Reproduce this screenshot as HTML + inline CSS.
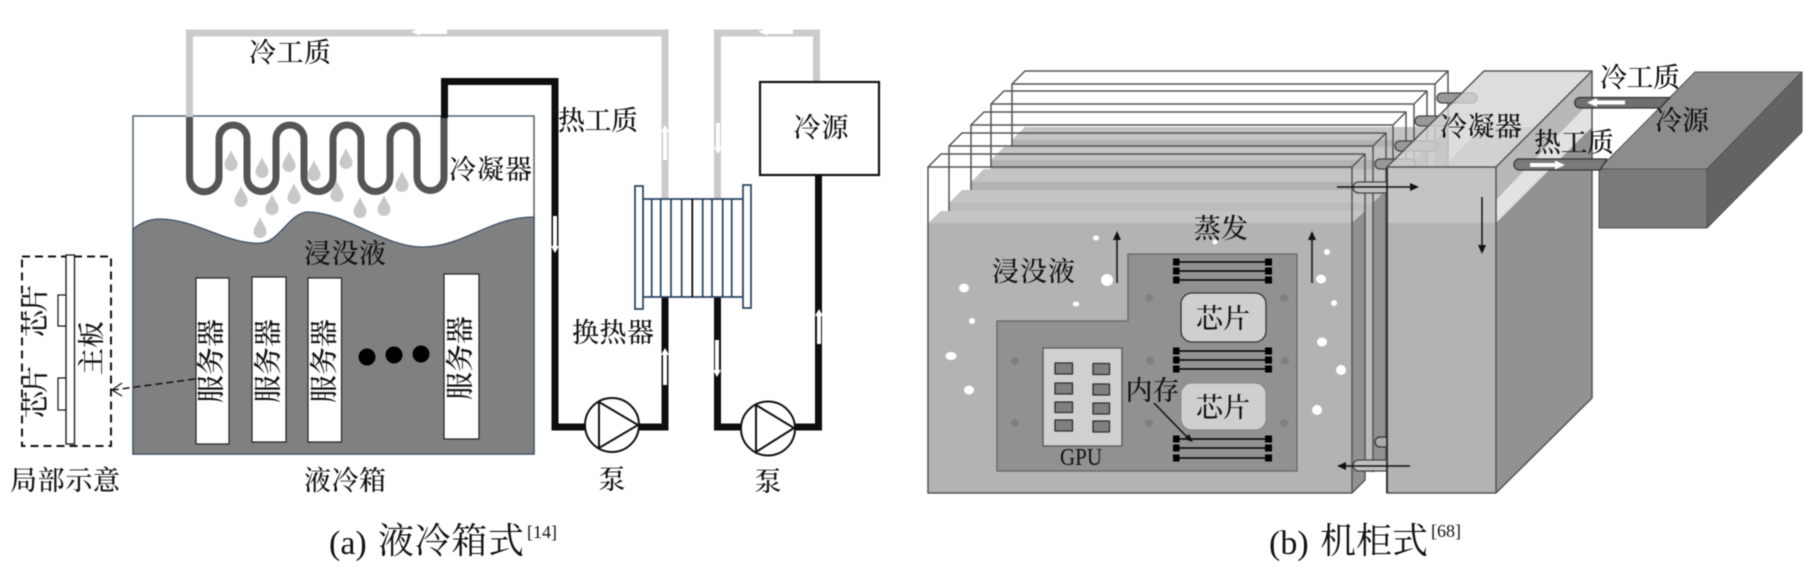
<!DOCTYPE html>
<html><head><meta charset="utf-8"><style>
html,body{margin:0;padding:0;background:#fff;width:1810px;height:583px;overflow:hidden}
svg{display:block;filter:blur(.55px)}
text{font-family:"Liberation Serif","Noto Serif CJK SC",serif;fill:#111}
.c{font-family:"Liberation Serif","Noto Serif CJK SC",serif;text-anchor:middle;dominant-baseline:central;font-size:27px;font-weight:500}
</style></head><body>
<svg width="1810" height="583" viewBox="0 0 1810 583" xmlns="http://www.w3.org/2000/svg">
<defs>
<path id="d" d="M0,-11 C2,-5 6.5,-1 6.5,3.5 A6.5,6.5 0 1 1 -6.5,3.5 C-6.5,-1 -2,-5 0,-11 Z" fill="#c8c8c8"/>
</defs>

<!-- LEFT: tank -->
<rect x="133" y="116" width="401" height="338" fill="#fff" stroke="#4e6070" stroke-width="1.5"/>
<path d="M133,229 C142,222 150,219 160,219 C195,219 230,246 262,243 C280,241 290,212 308,212 C345,212 385,248 424,247 C465,246 490,217 534,217 L534,454 L133,454 Z" fill="#808080" stroke="#3d5068" stroke-width="1.3"/>
<use href="#d" x="231" y="161"/><use href="#d" x="262" y="168"/><use href="#d" x="289" y="162"/><use href="#d" x="314" y="171"/><use href="#d" x="346" y="159"/><use href="#d" x="241" y="197"/><use href="#d" x="272" y="205"/><use href="#d" x="294" y="194"/><use href="#d" x="337" y="192"/><use href="#d" x="360" y="208"/><use href="#d" x="384" y="206"/><use href="#d" x="402" y="182"/><use href="#d" x="260" y="228"/>

<!-- gray loops -->
<path d="M189.500,117 V33 H665 V199" fill="none" stroke="#cbcbcb" stroke-width="7"/>
<path d="M717.500,199 V33 H816.500 V82" fill="none" stroke="#cbcbcb" stroke-width="7"/>

<!-- coil -->
<path d="M189.500,117 V177 A14.750,14.750 0 0 0 219,177 V139 A14,14 0 0 1 247,139 V177 A14.500,14.500 0 0 0 276,177 V139 A14,14 0 0 1 304,139 V177 A14.500,14.500 0 0 0 333,177 V139 A14,14 0 0 1 361,139 V177 A14.500,14.500 0 0 0 390,177 V139 A13.500,13.500 0 0 1 417,139 V177 A13.500,13.500 0 0 0 444,177 V116" fill="none" stroke="#555" stroke-width="7"/>

<!-- black loops -->
<path d="M444.500,118 V81.500 H555 V427 H600" fill="none" stroke="#0e0e0e" stroke-width="7"/>
<path d="M625,427 H665 V297" fill="none" stroke="#0e0e0e" stroke-width="7"/>
<path d="M717.500,297 V427 H750" fill="none" stroke="#0e0e0e" stroke-width="7"/>
<path d="M785,427 H818.500 V175" fill="none" stroke="#0e0e0e" stroke-width="7"/>

<!-- white flow arrows -->
<g fill="#fff">
<polygon points="447,29.500 420,29.500 420,28 411,31.700 420,35.500 420,34 447,34"/>
<polygon points="793,29.500 768,29.500 768,28 758,31.700 768,35.500 768,34 793,34"/>
<polygon points="663,160 663,132 661,132 665,125 669,132 667,132 667,160"/>
<polygon points="716,123 716,147 714,147 718,154 722,147 720,147 720,123"/>
<polygon points="553,216 553,246 551,246 555,253 559,246 557,246 557,216"/>
<polygon points="663,385 663,355 661,355 665,348 669,355 667,355 667,385"/>
<polygon points="715,340 715,370 713,370 717,377 721,370 719,370 719,340"/>
<polygon points="817,344 817,316 815,316 819,309 823,316 821,316 821,344"/>
</g>

<!-- exchanger -->
<g fill="none" stroke="#26405f" stroke-width="1.700">
<rect x="643" y="199" width="100" height="98" fill="#fff"/>
<rect x="635" y="186" width="8" height="123" fill="#fff"/>
<rect x="743" y="185" width="8" height="123" fill="#fff"/>
<path d="M651.700,199V297M660.700,199V297M671,199V297M681.700,199V297M702.700,199V297M712,199V297M722.700,199V297M731.700,199V297"/>
<path d="M692.300,199V297" stroke="#000"/>
</g>

<!-- pumps -->
<g fill="#fff" stroke="#111" stroke-width="2">
<ellipse cx="612" cy="425" rx="27" ry="27"/>
<polygon points="599,402 638,425 599,448" fill="none"/>
<ellipse cx="768" cy="428.500" rx="27" ry="27"/>
<polygon points="756,405 794,428 756,452" fill="none"/>
</g>

<rect x="760" y="82" width="119" height="93" fill="#fff" stroke="#111" stroke-width="2.200"/>

<!-- servers -->
<g fill="#fff" stroke="#222" stroke-width="1.200">
<rect x="196" y="278" width="33" height="166"/>
<rect x="252" y="277" width="34" height="165"/>
<rect x="308" y="278" width="33.500" height="164"/>
<rect x="444" y="274" width="35" height="165"/>
</g>
<circle cx="367" cy="357" r="8.500" fill="#000"/><circle cx="394" cy="355" r="8.500" fill="#000"/><circle cx="421" cy="354" r="8.500" fill="#000"/>

<!-- inset -->
<rect x="22" y="256.500" width="89" height="189.500" fill="none" stroke="#111" stroke-width="2" stroke-dasharray="8 5"/>
<rect x="66" y="255" width="8.500" height="189" fill="#fff" stroke="#111" stroke-width="1.300"/>
<rect x="58" y="295" width="8" height="31" fill="#fff" stroke="#111" stroke-width="1.200"/>
<rect x="58" y="378" width="8" height="32" fill="#fff" stroke="#111" stroke-width="1.200"/>
<path d="M195,379 L113,390" stroke="#111" stroke-width="1.500" stroke-dasharray="7 4" fill="none"/>
<path d="M122,383 L112,390 L122,396" stroke="#111" stroke-width="1.200" fill="none"/>

<!-- left text -->
<text class="c" x="290" y="53" textLength="82" lengthAdjust="spacing">冷工质</text>
<text class="c" x="490.500" y="170" textLength="83" lengthAdjust="spacing">冷凝器</text>
<text class="c" x="345" y="254" textLength="82" lengthAdjust="spacing">浸没液</text>
<text class="c" x="598" y="121" textLength="80" lengthAdjust="spacing">热工质</text>
<text class="c" x="613" y="333" textLength="82" lengthAdjust="spacing">换热器</text>
<text class="c" x="821" y="128" textLength="55" lengthAdjust="spacing">冷源</text>
<text class="c" x="612" y="480">泵</text>
<text class="c" x="768" y="482">泵</text>
<text class="c" x="65" y="481" textLength="110" lengthAdjust="spacing">局部示意</text>
<text class="c" x="345" y="481" textLength="82" lengthAdjust="spacing">液冷箱</text>
<g>
<text class="c" style="font-size:28px" x="212" y="361" transform="rotate(-90 212 361)" textLength="84" lengthAdjust="spacing">服务器</text>
<text class="c" style="font-size:28px" x="269" y="361" transform="rotate(-90 269 361)" textLength="84" lengthAdjust="spacing">服务器</text>
<text class="c" style="font-size:28px" x="325" y="361" transform="rotate(-90 325 361)" textLength="84" lengthAdjust="spacing">服务器</text>
<text class="c" style="font-size:28px" x="461" y="358" transform="rotate(-90 461 358)" textLength="84" lengthAdjust="spacing">服务器</text>
<text class="c" x="36" y="311" transform="rotate(-90 36 311)" textLength="52" lengthAdjust="spacing">芯片</text>
<text class="c" x="36" y="392" transform="rotate(-90 36 392)" textLength="52" lengthAdjust="spacing">芯片</text>
<text class="c" x="92" y="348" transform="rotate(-90 92 348)" textLength="54" lengthAdjust="spacing">主板</text>
</g>

<!-- captions -->
<text x="329" y="554" font-size="34" style="font-family:'Liberation Serif',serif">(a)</text>
<text class="c" x="451" y="541" style="font-size:36px;font-weight:400" textLength="146" lengthAdjust="spacing">液冷箱式</text>
<text x="527" y="538" font-size="18" style="font-family:'Liberation Serif',serif">[14]</text>
<text x="1269" y="554" font-size="34" style="font-family:'Liberation Serif',serif">(b)</text>
<text class="c" x="1374" y="541" style="font-size:36px;font-weight:400" textLength="108" lengthAdjust="spacing">机柜式</text>
<text x="1431" y="537" font-size="18" style="font-family:'Liberation Serif',serif">[68]</text>

<!-- RIGHT: panels back to front -->
<g stroke-linejoin="round">
<!-- P5 -->
<polygon points="1012,140 1025,127 1448,127 1435,140" fill="#c4c4c4"/><rect x="1012" y="140" width="423" height="271" fill="#b3b3b3"/><polygon points="1435,140 1448,127 1448,398 1435,411" fill="#919191"/>
<path d="M1012,147V84H1435V140M1012,84L1025,71H1448V398M1435,84L1448,71" fill="none" stroke="#555" stroke-width="1.500"/>
<!-- P4 -->
<polygon points="991,160 1004,147 1427,147 1414,160" fill="#c4c4c4"/><rect x="991" y="160" width="423" height="271" fill="#b3b3b3"/><polygon points="1414,160 1427,147 1427,418 1414,431" fill="#919191"/>
<path d="M991,168V104H1414V160M991,104L1004,91H1427V418M1414,104L1427,91" fill="none" stroke="#555" stroke-width="1.500"/>
<!-- P3 -->
<polygon points="971,182 984,169 1406,169 1393,182" fill="#c4c4c4"/><rect x="971" y="182" width="422" height="270" fill="#b3b3b3"/><polygon points="1393,182 1406,169 1406,439 1393,452" fill="#919191"/>
<path d="M971,190V125H1393V182M971,125L984,112H1406V439M1393,125L1406,112" fill="none" stroke="#555" stroke-width="1.500"/>
<!-- P2 -->
<polygon points="949,203 962,190 1386,190 1373,203" fill="#c4c4c4"/><rect x="949" y="203" width="424" height="269" fill="#bcbcbc"/><polygon points="1373,203 1386,190 1386,459 1373,472" fill="#919191"/>
<path d="M949,211V146H1373V472M949,146L962,133H1386V459L1373,472M1373,146L1386,133" fill="none" stroke="#555" stroke-width="1.500"/>

<!-- stack pipes -->
<g stroke="#333" stroke-width="1.300" fill="#8a8a8a">
<rect x="1437" y="93" width="40" height="10" rx="5" fill="#999" stroke="#444"/>
<rect x="1415" y="116" width="36" height="10" rx="5" fill="#999" stroke="#444"/>
<rect x="1395" y="141" width="42" height="10" rx="5" fill="#999" stroke="#444"/>
<rect x="1375" y="159" width="40" height="10" rx="5" fill="#999" stroke="#444"/>
<rect x="1375" y="437" width="20" height="10" rx="5" fill="#aaa"/>
</g>

<!-- P1 -->
<polygon points="928,223 941,211 1365,211 1352,223" fill="#c4c4c4"/><rect x="928" y="223" width="424" height="270" fill="#b3b3b3"/><polygon points="1352,223 1365,211 1365,480 1352,493" fill="#919191"/>
<path d="M928,223V167H1352V493H928V223M928,167L941,154H1365V480L1352,493M1352,167L1365,154" fill="none" stroke="#555" stroke-width="1.500"/>

<g stroke="#444" stroke-width="1.300" fill="#c0c0c0">
<rect x="1353" y="182" width="42" height="11" rx="5.500"/>
<rect x="1353" y="460" width="40" height="11" rx="5.500"/>
</g>

<!-- condenser -->
<polygon points="1387,167 1484,71 1592,71 1496,167" fill="#d4d4d4" fill-opacity=".8"/>
<polygon points="1387,223 1483,127 1540,127 1496,167 1387,167" fill="#c6c6c6" fill-opacity=".55"/>
<rect x="1387" y="167" width="109" height="56" fill="#c4c4c4"/>
<rect x="1387" y="223" width="109" height="270" fill="#b3b3b3"/>
<polygon points="1496,167 1592,71 1592,100 1496,200" fill="#b8b8b8"/>
<polygon points="1496,200 1592,100 1592,127 1496,223" fill="#e2e2e2"/>
<polygon points="1496,223 1592,127 1592,398 1496,493" fill="#929292"/>
<path d="M1387,167H1496V493H1387ZM1387,167L1484,71H1592V398L1496,493M1496,167L1592,71" fill="none" stroke="#555" stroke-width="1.500"/>
<path d="M1387,167V493" stroke="#333" stroke-width="2"/>

<!-- cold source -->
<polygon points="1599,169 1695,72 1802,72 1707,169" fill="#8c8c8c" stroke="#555" stroke-width="1"/>
<rect x="1599" y="169" width="108" height="59" fill="#7a7a7a" stroke="#555" stroke-width="1"/>
<polygon points="1707,169 1802,72 1802,132 1707,228" fill="#636363" stroke="#555" stroke-width="1"/>

<!-- source pipes -->
<path d="M1670,97.500H1580A5.250,5.250 0 0 0 1580,108H1660Z" fill="#6f6f6f" stroke="#333" stroke-width="1.300"/>
<path d="M1607,159H1518A5.750,5.750 0 0 0 1518,170H1600Z" fill="#7a7a7a" stroke="#333" stroke-width="1.300"/>
<polygon points="1625,100.500 1597,100.500 1597,98 1587,102.500 1597,107 1597,104.500 1625,104.500" fill="#fff"/>
<polygon points="1530,163 1555,163 1555,160.500 1565,165 1555,169.500 1555,167 1530,167" fill="#fff"/>

<!-- board -->
<polygon points="1128,254 1297,254 1297,471 997,471 997,321 1128,321" fill="#919191" stroke="#666" stroke-width="1.300"/>
<g fill="#808080"><circle cx="1149" cy="298" r="4"/><circle cx="1284" cy="298" r="4"/><circle cx="1015" cy="361" r="4"/><circle cx="1150" cy="361" r="4"/><circle cx="1285" cy="361" r="4"/><circle cx="1015" cy="423" r="4"/><circle cx="1149" cy="423" r="4"/><circle cx="1284" cy="423" r="4"/></g>
<rect x="1043" y="348" width="79" height="98" fill="#d0d0d0" stroke="#555" stroke-width="1.300"/>
<g fill="#808080" stroke="#2e2e2e" stroke-width="1.300">
<rect x="1055" y="363" width="17.500" height="11"/><rect x="1055" y="383" width="17.500" height="11"/><rect x="1055" y="402" width="17.500" height="10.500"/><rect x="1055" y="420" width="17.500" height="11"/>
<rect x="1093" y="363.500" width="16.500" height="11"/><rect x="1093" y="384" width="16.500" height="11"/><rect x="1093" y="403" width="16.500" height="11"/><rect x="1093" y="421" width="16.500" height="11"/>
</g>
<rect x="1181" y="293" width="85" height="49" rx="11" fill="#cfcfcf" stroke="#333" stroke-width="1.300"/>
<rect x="1181" y="383" width="85" height="47" rx="11" fill="#cfcfcf" stroke="#888" stroke-width="1"/>

<!-- memory -->
<g stroke="#000" stroke-width="1.500"><path d="M1176,262H1268M1176,271H1268M1176,280H1268M1176,351H1268M1176,360H1268M1176,369H1268M1176,439H1268M1176,448H1268M1176,458H1268"/></g>
<g fill="#000">
<rect x="1173" y="258.500" width="6.500" height="7"/><rect x="1173" y="267.500" width="6.500" height="7"/><rect x="1173" y="276.500" width="6.500" height="7"/><rect x="1265" y="258.500" width="7" height="7"/><rect x="1265" y="267.500" width="7" height="7"/><rect x="1265" y="276.500" width="7" height="7"/>
<rect x="1173" y="347.500" width="6.500" height="7"/><rect x="1173" y="356.500" width="6.500" height="7"/><rect x="1173" y="365.500" width="6.500" height="7"/><rect x="1265" y="347.500" width="7" height="7"/><rect x="1265" y="356.500" width="7" height="7"/><rect x="1265" y="365.500" width="7" height="7"/>
<rect x="1173" y="435.500" width="6.500" height="7"/><rect x="1173" y="444.500" width="6.500" height="7"/><rect x="1173" y="454.500" width="6.500" height="7"/><rect x="1265" y="435.500" width="7" height="7"/><rect x="1265" y="444.500" width="7" height="7"/><rect x="1265" y="454.500" width="7" height="7"/>
</g>

<!-- bubbles -->
<g fill="#fff">
<ellipse cx="964" cy="288" rx="5" ry="4.500"/><circle cx="972" cy="321" r="3"/><ellipse cx="951" cy="356" rx="5.500" ry="4"/><ellipse cx="969" cy="390" rx="5" ry="4.500"/><ellipse cx="1096" cy="238" rx="3" ry="2.500"/><circle cx="1107" cy="280" r="6"/><ellipse cx="1076" cy="304" rx="3.200" ry="2.500"/><circle cx="1215" cy="242" r="2.500"/>
<circle cx="1327" cy="252" r="3"/><ellipse cx="1321" cy="279" rx="5" ry="4.500"/><circle cx="1334" cy="303" r="3"/><ellipse cx="1322" cy="342" rx="5" ry="4.500"/><circle cx="1341" cy="370" r="5"/><circle cx="1317" cy="410" r="5"/>
</g>

<!-- black arrows -->
<g stroke="#111" stroke-width="1.500" fill="#111">
<path d="M1117,283V238M1312,283V238M1482,197V247M1337,187H1412M1343,466H1410M1154,403L1188,438" fill="none"/>
<polygon points="1117,231 1113,240 1121,240" stroke="none"/>
<polygon points="1312,231 1308,240 1316,240" stroke="none"/>
<polygon points="1482,254 1478,245 1486,245" stroke="none"/>
<polygon points="1419,187 1410,183 1410,191" stroke="none"/>
<polygon points="1337,466 1346,462 1346,470" stroke="none"/>
<polygon points="1193,442 1184,439 1189,434" stroke="none"/>
</g>
</g>

<!-- right text -->
<text class="c" x="1033.500" y="272" textLength="83" lengthAdjust="spacing">浸没液</text>
<text class="c" x="1221" y="229" textLength="54" lengthAdjust="spacing">蒸发</text>
<text class="c" x="1223" y="319" textLength="54" lengthAdjust="spacing">芯片</text>
<text class="c" x="1223" y="408" textLength="54" lengthAdjust="spacing">芯片</text>
<text class="c" x="1152.500" y="391" textLength="54" lengthAdjust="spacing">内存</text>
<text x="1060" y="465" font-size="24" textLength="42" lengthAdjust="spacingAndGlyphs" style="font-family:'Liberation Serif',serif">GPU</text>
<text class="c" x="1481" y="127" textLength="82" lengthAdjust="spacing">冷凝器</text>
<text class="c" x="1640" y="78" textLength="80" lengthAdjust="spacing">冷工质</text>
<text class="c" x="1574" y="143" textLength="80" lengthAdjust="spacing">热工质</text>
<text class="c" x="1682" y="121" textLength="54" lengthAdjust="spacing">冷源</text>
</svg>
</body></html>
